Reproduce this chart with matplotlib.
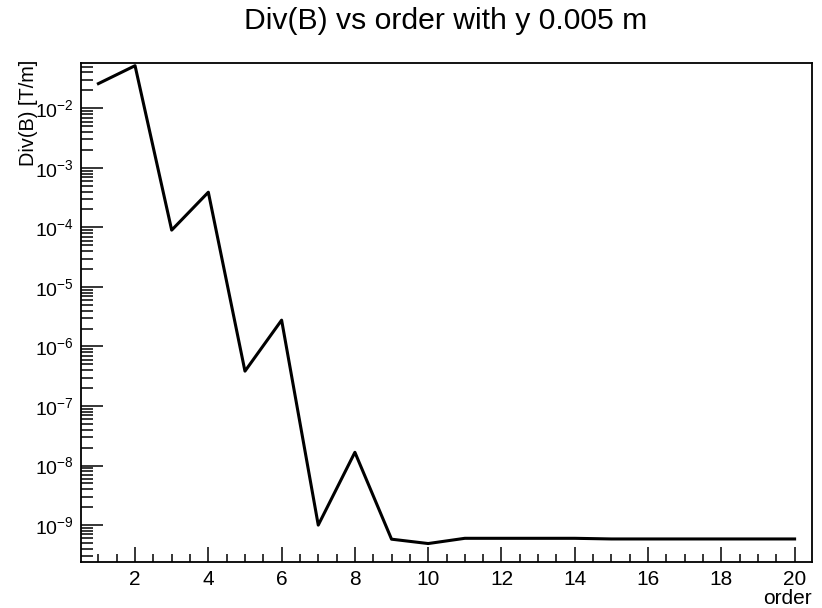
import matplotlib
matplotlib.use("Agg")
import matplotlib.pyplot as plt
from matplotlib.ticker import LogLocator, MultipleLocator, NullFormatter

plt.rcParams['font.family'] = ['Liberation Sans', 'DejaVu Sans']
plt.rcParams['mathtext.default'] = 'regular'

# datos
orden = [1, 2, 3, 4, 5, 6, 7, 8, 9, 10, 11, 12, 13, 14, 15, 16, 17, 18, 19, 20]
div_b = [2.6e-2, 5.2e-2, 9.0e-5, 3.9e-4, 3.85e-7, 2.77e-6, 1.0e-9, 1.67e-8,
         5.8e-10, 4.9e-10, 6.0e-10, 6.0e-10, 6.0e-10, 6.0e-10, 5.85e-10,
         5.85e-10, 5.85e-10, 5.85e-10, 5.85e-10, 5.85e-10]
decadas = [-9, -8, -7, -6, -5, -4, -3, -2]

titulo = "Div(B) vs order with y 0.005 m"
etiqueta_x = "order"
etiqueta_y = "Div(B) [T/m]"

fig = plt.figure(figsize=(8.22, 6.08), dpi=100)
ax = fig.add_axes([81 / 822, 46 / 608, 731 / 822, 499 / 608])

ax.plot(orden, div_b, color="black", linewidth=2.2)
ax.set_yscale("log")
ax.set_xlim(0.525, 20.475)
ax.set_ylim(2.4e-10, 5.77e-2)

# ejes estilo ROOT
ax.xaxis.set_major_locator(MultipleLocator(2))
ax.xaxis.set_minor_locator(MultipleLocator(0.5))
ax.set_yticks([10.0 ** d for d in decadas])
ax.yaxis.set_minor_locator(LogLocator(base=10, subs=range(2, 10), numticks=20))
ax.yaxis.set_minor_formatter(NullFormatter())

ax.tick_params(axis="x", which="major", direction="in", length=10.8, width=1.1,
               labelsize=15, pad=6, top=False)
ax.tick_params(axis="x", which="minor", direction="in", length=5.8, width=1.1, top=False)
ax.tick_params(axis="y", which="major", direction="in", length=15.6, width=1.1,
               labelsize=14, pad=5, right=False)
ax.tick_params(axis="y", which="minor", direction="in", length=8.4, width=1.1, right=False)

for lado in ax.spines.values():
    lado.set_linewidth(1.3)

fig.text(446 / 822, 1 - 29 / 608, titulo, ha="center", va="baseline", fontsize=21.7)
fig.text(812 / 822, 1 - 598 / 608, etiqueta_x, ha="right", va="center", fontsize=15)
fig.text(29 / 822, 1 - 60 / 608, etiqueta_y, ha="center", va="top", rotation=90, fontsize=14.3)

fig.savefig("out.png", dpi=100)
